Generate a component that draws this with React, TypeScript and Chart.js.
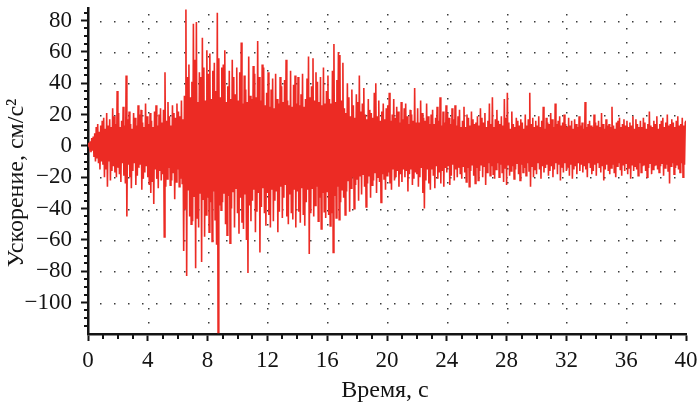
import React, { useEffect, useRef } from 'react';
import { Chart, registerables } from 'chart.js';

Chart.register(...registerables);

// sampling step of the record, seconds
const DT = 0.05;

// acceleration, cm/s² in 4-second blocks
const ACC_00_04 = [
  0, 2, -1, 3, -4, 5, -3, 6, -7, 8, -10, 12, -8, 14, -11, 9, -15, 13, -10, 16,
  -12, 18, -20, 11, -15, 21, -26, 13, -10, 17, -22, 12, -16, 24, -13, 19, -17, 14, -20, 35,
  -14, 21, -18, 12, -23, 16, -11, 25, -19, 13, -24, 45, -45, 17, -12, 22, -20, 14, -27, 11,
  -16, 21, -11, 18, -25, 13, -19, 26, -14, 20, -12, 23, -28, 15, -21, 12, -17, 27, -13, 19,
];
const ACC_04_08 = [
  -20, 14, -25, 21, -30, 16, -23, 12, -37, 22, -15, 26, -21, 13, -27, 20, -16, 24, -22, 15,
  -18, 23, -58, 47, -26, 16, -21, 28, -14, 19, -25, 13, -22, 26, -17, 21, -34, 18, -23, 27,
  -15, 22, -26, 19, -21, 29, -24, 17, -67, 32, -40, 87, -83, 44, -28, 52, -45, 31, -50, 41,
  -48, 78, -32, 55, -78, 79, -46, 28, -52, 47, -30, 44, -74, 69, -34, 50, -58, 29, -44, 61,
];
const ACC_08_12 = [
  -33, 46, -55, 59, -36, 30, -61, 48, -29, 53, -47, 35, -63, 85, -119, 56, -38, 31, -41, 50,
  -36, 52, -30, 61, -50, 28, -57, 38, -32, 48, -62, 30, -40, 55, -29, 44, -52, 33, -27, 50,
  -43, 29, -56, 47, -33, 66, -49, 27, -53, 45, -31, 36, -60, 28, -81, 57, -38, 32, -48, 30,
  -35, 51, -28, 46, -55, 31, -42, 67, -30, 44, -68, 29, -39, 52, -27, 50, -43, 26, -51, 34,
];
const ACC_12_16 = [
  -30, 47, -44, 25, -52, 36, -28, 43, -48, 24, -35, 46, -29, 30, -55, 27, -42, 44, -26, 38,
  -46, 28, -33, 42, -25, 55, -45, 29, -50, 26, -31, 48, -43, 25, -47, 39, -28, 45, -52, 27,
  -29, 44, -42, 26, -49, 33, -27, 46, -44, 25, -51, 30, -36, 43, -28, 57, -69, 31, -43, 38,
  -27, 56, -45, 29, -38, 47, -26, 41, -48, 28, -33, 44, -53, 26, -30, 50, -42, 27, -46, 35,
];
const ACC_16_20 = [
  -29, 45, -44, 30, -51, 27, -43, 48, -68, 65, -32, 28, -46, 42, -26, 60, -47, 58, -36, 29,
  -28, 53, -33, 24, -44, 21, -29, 40, -22, 31, -42, 19, -27, 36, -20, 26, -40, 18, -25, 33,
  -21, 28, -35, 45, -19, 22, -31, 27, -18, 37, -26, 20, -39, 17, -24, 30, -19, 23, -33, 21,
  -25, 18, -22, 34, -17, 40, -30, 19, -20, 29, -23, 16, -36, 22, -18, 27, -21, 17, -28, 24,
];
const ACC_20_24 = [
  -19, 26, -17, 34, -24, 16, -28, 20, -15, 30, -22, 18, -20, 25, -16, 22, -26, 15, -18, 28,
  -23, 17, -15, 24, -20, 27, -16, 19, -29, 14, -18, 23, -15, 20, -25, 16, -21, 37, -17, 15,
  -18, 24, -26, 15, -20, 29, -14, 21, -30, 18, -40, 16, -22, 27, -15, 19, -24, 14, -28, 20,
  -15, 23, -19, 14, -27, 18, -13, 25, -21, 16, -17, 31, -24, 13, -16, 22, -26, 15, -14, 26,
];
const ACC_24_28 = [
  -17, 21, -13, 18, -25, 14, -19, 24, -12, 17, -22, 26, -15, 13, -20, 19, -14, 23, -18, 12,
  -21, 16, -13, 25, -17, 12, -23, 20, -14, 18, -26, 13, -16, 22, -12, 17, -19, 14, -24, 15,
  -14, 19, -22, 13, -16, 24, -12, 18, -20, 15, -13, 21, -25, 12, -17, 16, -11, 27, -19, 14,
  -13, 31, -18, 12, -21, 17, -15, 23, -11, 16, -20, 14, -12, 19, -17, 13, -23, 30, -14, 18,
];
const ACC_28_32 = [
  -25, 34, -12, 15, -19, 11, -16, 22, -13, 14, -21, 12, -15, 18, -11, 16, -18, 13, -22, 17,
  -12, 15, -17, 11, -14, 20, -19, 13, -11, 17, -16, 34, -26, 14, -13, 18, -20, 12, -15, 16,
  -18, 13, -11, 19, -15, 12, -21, 16, -13, 25, -17, 11, -14, 18, -12, 15, -19, 14, -16, 21,
  -13, 17, -20, 12, -15, 27, -11, 14, -18, 16, -12, 19, -22, 13, -14, 15, -17, 20, -11, 14,
];
const ACC_32_36 = [
  -16, 12, -14, 18, -19, 13, -12, 16, -21, 11, -15, 17, -13, 14, -18, 12, -11, 19, -16, 13,
  -12, 15, -17, 11, -13, 28, -15, 12, -20, 14, -11, 16, -14, 13, -18, 12, -16, 20, -12, 15,
  -19, 13, -11, 16, -14, 12, -17, 21, -13, 14, -22, 11, -15, 17, -12, 13, -16, 14, -18, 12,
  -14, 25, -12, 13, -17, 11, -20, 15, -13, 16, -11, 18, -15, 12, -19, 14, -12, 17, -16, 13,
];
const ACC_36_40 = [
  -11, 16, -18, 12, -14, 15, -21, 13, -12, 19, -16, 11, -13, 17, -15, 14, -19, 12, -11, 16,
  -17, 12, -13, 18, -12, 15, -16, 11, -20, 14, -14, 22, -11, 13, -18, 12, -15, 16, -13, 14,
  -12, 19, -15, 11, -17, 14, -13, 16, -11, 18, -19, 12, -14, 15, -12, 20, -16, 13, -24, 14,
  -13, 17, -11, 15, -18, 12, -14, 16, -12, 19, -15, 13, -17, 14, -11, 18, -20, 13, -12, 15,
  16,
];

const ACCEL = [
  ...ACC_00_04, ...ACC_04_08, ...ACC_08_12, ...ACC_12_16, ...ACC_16_20,
  ...ACC_20_24, ...ACC_24_28, ...ACC_28_32, ...ACC_32_36, ...ACC_36_40,
];

// axes
const X_MIN = 0;
const X_MAX = 40;
const X_MAJOR = 4;
const X_MINOR = 1;
const Y_MIN = -120;
const Y_MAX = 88;
const Y_TICKS = [-100, -80, -60, -40, -20, 0, 20, 40, 60, 80];
const Y_MINOR = 5;
const X_TITLE = 'Время, с';
const Y_TITLE = 'Ускорение, см/с²';

const SERIF = '"Liberation Serif", "Times New Roman", serif';
const LINE_COLOR = '#EC2B24';
const INK = '#141414';
const DOT = '#3a3a3a';
const DOT_GAP = 14;

// dotted grid, drawn under the data
const gridPlugin = {
  id: 'dotGrid',
  beforeDatasetsDraw(chart: any) {
    const { ctx, chartArea, scales } = chart;
    const x = scales.x;
    const y = scales.y;
    ctx.save();
    ctx.fillStyle = DOT;
    for (const v of Y_TICKS) {
      const py = Math.round(y.getPixelForValue(v));
      for (let px = chartArea.left + 12; px < chartArea.right; px += DOT_GAP) {
        ctx.fillRect(Math.round(px), py, 1.5, 1.5);
      }
    }
    for (let v = X_MIN + X_MAJOR; v < X_MAX; v += X_MAJOR) {
      const px = Math.round(x.getPixelForValue(v));
      for (let py = chartArea.top + 6; py < chartArea.bottom - 4; py += DOT_GAP) {
        ctx.fillRect(px, Math.round(py), 1.5, 1.5);
      }
    }
    ctx.restore();
  },
};

const decorPlugin = {
  id: 'decor',
  afterDraw(chart: any) {
    const { ctx, chartArea, scales } = chart;
    const x = scales.x;
    const y = scales.y;
    ctx.save();
    ctx.strokeStyle = INK;
    ctx.lineWidth = 2;
    for (let v = X_MIN; v <= X_MAX; v += X_MINOR) {
      if (v % X_MAJOR === 0) continue;
      const px = Math.round(x.getPixelForValue(v));
      ctx.beginPath();
      ctx.moveTo(px, chartArea.bottom);
      ctx.lineTo(px, chartArea.bottom + 5);
      ctx.stroke();
    }
    for (let v = Y_MIN + Y_MINOR; v < Y_MAX; v += Y_MINOR) {
      if (Y_TICKS.includes(v)) continue;
      const py = Math.round(y.getPixelForValue(v));
      ctx.beginPath();
      ctx.moveTo(chartArea.left, py);
      ctx.lineTo(chartArea.left - 4, py);
      ctx.stroke();
    }
    ctx.fillStyle = INK;
    ctx.font = `24px ${SERIF}`;
    ctx.textAlign = 'center';
    ctx.textBaseline = 'alphabetic';
    ctx.fillText(X_TITLE, (chartArea.left + chartArea.right) / 2 - 2, 397);
    ctx.translate(23, 183);
    ctx.rotate(-Math.PI / 2);
    ctx.fillText(Y_TITLE, 0, 0);
    ctx.restore();
  },
};

function fmt(v: number) {
  return v < 0 ? '\u2212' + Math.abs(v) : String(v);
}

export default function App() {
  const ref = useRef<HTMLCanvasElement | null>(null);

  useEffect(() => {
    if (!ref.current) return;
    const points = ACCEL.map((v, i) => ({ x: i * DT, y: v }));
    const chart = new Chart(ref.current, {
      type: 'line',
      data: {
        datasets: [
          {
            data: points,
            borderColor: LINE_COLOR,
            borderWidth: 1.6,
            pointRadius: 0,
            tension: 0,
            fill: false,
          },
        ],
      },
      options: {
        animation: false,
        responsive: true,
        maintainAspectRatio: false,
        devicePixelRatio: 1,
        layout: { padding: { top: 8, right: 14, left: 0, bottom: 0 } },
        plugins: {
          legend: { display: false },
          tooltip: { enabled: false },
        },
        scales: {
          x: {
            type: 'linear',
            min: X_MIN,
            max: X_MAX,
            afterFit: (s: any) => {
              s.height = 73;
              s.paddingLeft = 0;
              s.paddingRight = 0;
            },
            ticks: {
              stepSize: X_MAJOR,
              maxRotation: 0,
              autoSkip: false,
              padding: 6,
              color: INK,
              font: { family: SERIF, size: 23 },
              callback: (v: any) => fmt(Number(v)),
            },
            grid: {
              drawOnChartArea: false,
              drawTicks: true,
              tickLength: 7,
              tickWidth: 2,
              tickColor: INK,
            },
            border: { display: true, color: INK, width: 2.5 },
          },
          y: {
            type: 'linear',
            min: Y_MIN,
            max: Y_MAX,
            afterBuildTicks: (s: any) => {
              s.ticks = Y_TICKS.map((v) => ({ value: v }));
            },
            afterFit: (s: any) => {
              s.width = 88;
              s.paddingTop = 0;
              s.paddingBottom = 0;
            },
            ticks: {
              padding: 9,
              color: INK,
              font: { family: SERIF, size: 23 },
              callback: (v: any) => fmt(Number(v)),
            },
            grid: {
              drawOnChartArea: false,
              drawTicks: true,
              tickLength: 7,
              tickWidth: 2,
              tickColor: INK,
            },
            border: { display: true, color: INK, width: 2.5 },
          },
        },
      },
      plugins: [gridPlugin, decorPlugin],
    });
    return () => chart.destroy();
  }, []);

  return (
    <div style={{ position: 'absolute', left: 0, top: 0, width: 700, height: 407, background: '#fff' }}>
      <canvas ref={ref} />
    </div>
  );
}
